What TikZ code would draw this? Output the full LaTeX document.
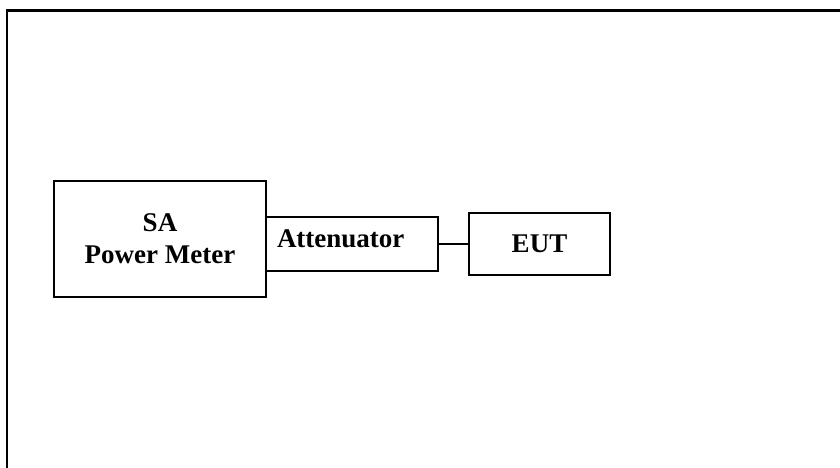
\documentclass[tikz,border=0pt]{standalone}
\usepackage{fontspec}
\setmainfont{Liberation Serif}
\usetikzlibrary{positioning}

\begin{document}
\begin{tikzpicture}[
    x=1pt, y=-1pt,
    box/.style={rectangle, draw, line width=1.8pt, inner sep=0pt, outer sep=0pt, align=center, font=\fontsize{27}{32}\selectfont\bfseries},
    link/.style={line width=1.8pt}
]
\useasboundingbox (0,0) rectangle (840,468);
% frame
\draw[line width=2.8pt] (7,468) -- (7,10.5) -- (840,10.5);

\node[box, minimum width=212pt, minimum height=116pt] (sa) at (160,239) {SA\\Power Meter};
\node[box, minimum width=172pt, minimum height=54pt, text width=150pt, align=left, text depth=10pt, right=0pt of sa, yshift=-5pt] (att) {Attenuator};
\node[box, minimum width=141pt, minimum height=62pt, right=31pt of att] (eut) {EUT};

\draw[link] (att) -- (eut);
\end{tikzpicture}
\end{document}
